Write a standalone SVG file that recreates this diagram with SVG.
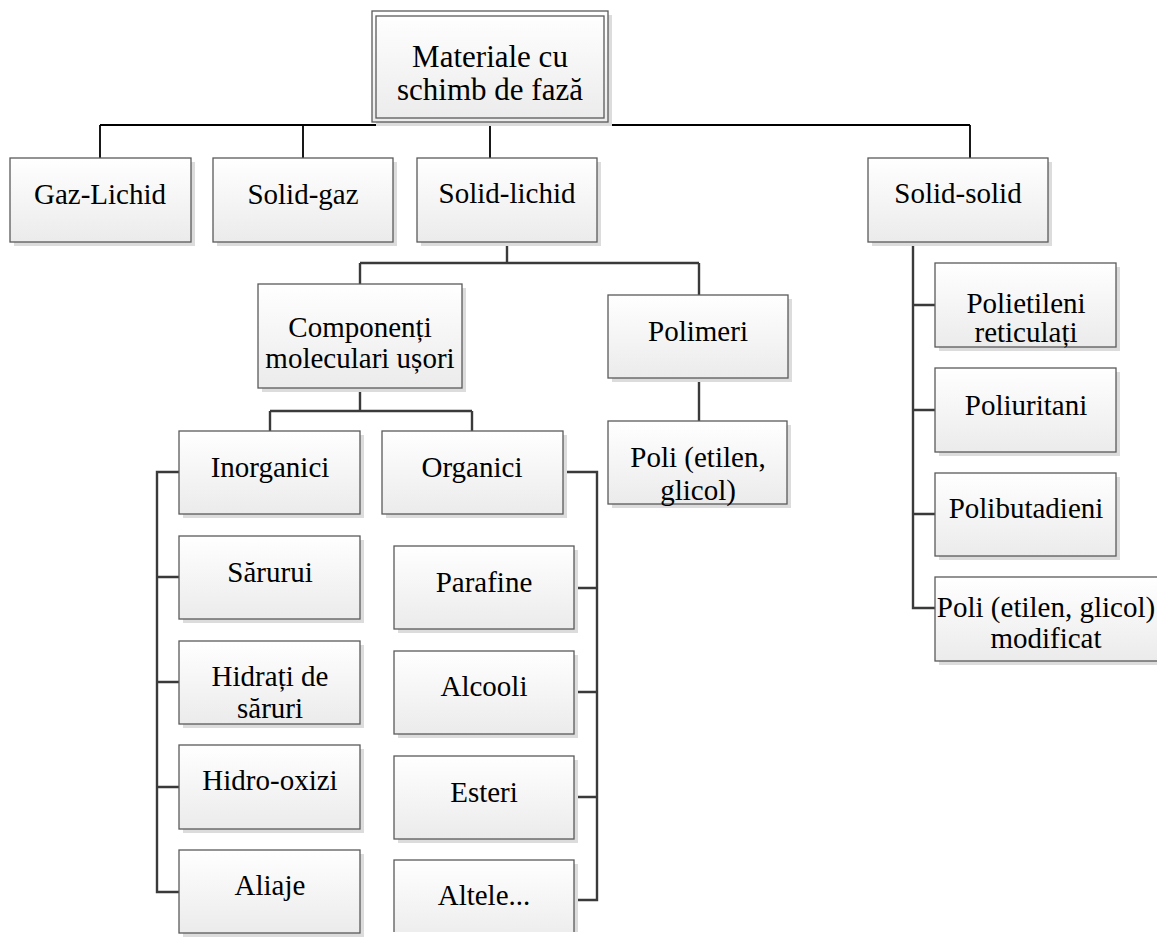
<svg xmlns="http://www.w3.org/2000/svg" width="1157" height="942" viewBox="0 0 1157 942">
<defs>
<linearGradient id="g" x1="0" y1="0" x2="0" y2="1">
<stop offset="0" stop-color="#ffffff"/>
<stop offset="1" stop-color="#ebebeb"/>
</linearGradient>
<clipPath id="cb"><rect x="0" y="0" width="1157" height="932"/></clipPath>
<style>
.b{fill:url(#g);stroke:#5a5a5a;stroke-width:1.3}
.s{fill:#dcdcdc;stroke:none}
.t{font-family:"Liberation Serif","Times New Roman",serif;font-size:29px;fill:#000;text-anchor:middle}
.c{fill:none;stroke:#3a3a3a;stroke-width:2.4}
.c0{fill:none;stroke:#000;stroke-width:1.8}
</style>
</defs>
<rect width="1157" height="942" fill="#fff"/>
<g id="connectors">
<path class="c0" d="M100 125 H970 M100 125 V158 M303 125 V158 M490 122 V158 M970 125 V158"/>
<path class="c" d="M507 242 V263 M360 263 H699 M360 263 V284 M699 263 V295 M699 378 V421"/>
<path class="c" d="M360 388 V411 M270 411 H472 M270 411 V431 M472 411 V431"/>
<path class="c" d="M179 472 H157 V892 H179 M157 577 H179 M157 682 H179 M157 787 H179"/>
<path class="c" d="M563 472 H597 V900 H574 M574 588 H597 M574 692 H597 M574 797 H597"/>
<path class="c" d="M913 242 V608 H935 M913 305 H935 M913 410 H935 M913 514 H935"/>
</g>
<g id="root">
<rect class="s" x="376" y="15" width="236" height="111"/>
<rect class="b" x="372" y="11" width="236" height="111"/>
<rect x="376" y="16" width="228" height="102" fill="none" stroke="#5a5a5a" stroke-width="1.3"/>
<text class="t" x="490" y="67" style="font-size:31px">Materiale cu</text>
<text class="t" x="490" y="100" style="font-size:31px">schimb de fază</text>
</g>
<g id="gaz-lichid">
<rect class="s" x="14" y="162" width="181" height="84"/>
<rect class="b" x="10" y="158" width="181" height="84"/>
<text class="t" x="100" y="204">Gaz-Lichid</text>
</g>
<g id="solid-gaz">
<rect class="s" x="217" y="162" width="180" height="84"/>
<rect class="b" x="213" y="158" width="180" height="84"/>
<text class="t" x="303" y="204">Solid-gaz</text>
</g>
<g id="solid-lichid">
<rect class="s" x="421" y="162" width="180" height="84"/>
<rect class="b" x="417" y="158" width="180" height="84"/>
<text class="t" x="507" y="203">Solid-lichid</text>
</g>
<g id="solid-solid">
<rect class="s" x="872" y="162" width="180" height="84"/>
<rect class="b" x="868" y="158" width="180" height="84"/>
<text class="t" x="958" y="203">Solid-solid</text>
</g>
<g id="componenti">
<rect class="s" x="262" y="288" width="204" height="104"/>
<rect class="b" x="258" y="284" width="204" height="104"/>
<text class="t" x="360" y="337">Componenți</text>
<text class="t" x="360" y="368">moleculari ușori</text>
</g>
<g id="polimeri">
<rect class="s" x="612" y="299" width="180" height="83"/>
<rect class="b" x="608" y="295" width="180" height="83"/>
<text class="t" x="698" y="341">Polimeri</text>
</g>
<g id="poli-etilen-glicol">
<rect class="s" x="612" y="425" width="179" height="83"/>
<rect class="b" x="608" y="421" width="179" height="83"/>
<text class="t" x="698" y="467">Poli (etilen,</text>
<text class="t" x="698" y="500">glicol)</text>
</g>
<g id="inorganici">
<rect class="s" x="183" y="435" width="181" height="83"/>
<rect class="b" x="179" y="431" width="181" height="83"/>
<text class="t" x="270" y="477">Inorganici</text>
</g>
<g id="organici">
<rect class="s" x="386" y="435" width="181" height="83"/>
<rect class="b" x="382" y="431" width="181" height="83"/>
<text class="t" x="472" y="477">Organici</text>
</g>
<g id="sarurui">
<rect class="s" x="183" y="540" width="181" height="83"/>
<rect class="b" x="179" y="536" width="181" height="83"/>
<text class="t" x="270" y="582">Sărurui</text>
</g>
<g id="hidrati">
<rect class="s" x="183" y="645" width="181" height="83"/>
<rect class="b" x="179" y="641" width="181" height="83"/>
<text class="t" x="270" y="686">Hidrați de</text>
<text class="t" x="270" y="718">săruri</text>
</g>
<g id="hidro-oxizi">
<rect class="s" x="183" y="749" width="181" height="84"/>
<rect class="b" x="179" y="745" width="181" height="84"/>
<text class="t" x="270" y="790">Hidro-oxizi</text>
</g>
<g id="aliaje">
<rect class="s" x="183" y="854" width="181" height="83"/>
<rect class="b" x="179" y="850" width="181" height="83"/>
<text class="t" x="270" y="895">Aliaje</text>
</g>
<g id="parafine">
<rect class="s" x="398" y="550" width="180" height="83"/>
<rect class="b" x="394" y="546" width="180" height="83"/>
<text class="t" x="484" y="592">Parafine</text>
</g>
<g id="alcooli">
<rect class="s" x="398" y="655" width="180" height="83"/>
<rect class="b" x="394" y="651" width="180" height="83"/>
<text class="t" x="484" y="696">Alcooli</text>
</g>
<g id="esteri">
<rect class="s" x="398" y="760" width="180" height="83"/>
<rect class="b" x="394" y="756" width="180" height="83"/>
<text class="t" x="484" y="802">Esteri</text>
</g>
<g id="altele" clip-path="url(#cb)">
<rect class="s" x="398" y="864" width="180" height="83"/>
<rect class="b" x="394" y="860" width="180" height="83"/>
<text class="t" x="484" y="905">Altele...</text>
</g>
<g id="polietileni">
<rect class="s" x="939" y="267" width="181" height="84"/>
<rect class="b" x="935" y="263" width="181" height="84"/>
<text class="t" x="1026" y="313">Polietileni</text>
<text class="t" x="1026" y="342">reticulați</text>
</g>
<g id="poliuritani">
<rect class="s" x="939" y="372" width="181" height="84"/>
<rect class="b" x="935" y="368" width="181" height="84"/>
<text class="t" x="1026" y="415">Poliuritani</text>
</g>
<g id="polibutadieni">
<rect class="s" x="939" y="477" width="181" height="83"/>
<rect class="b" x="935" y="473" width="181" height="83"/>
<text class="t" x="1026" y="518">Polibutadieni</text>
</g>
<g id="poli-modificat">
<rect class="s" x="939" y="581" width="224" height="84"/>
<rect class="b" x="935" y="577" width="224" height="84"/>
<text class="t" x="1046" y="617">Poli (etilen, glicol)</text>
<text class="t" x="1046" y="648">modificat</text>
</g>
</svg>
